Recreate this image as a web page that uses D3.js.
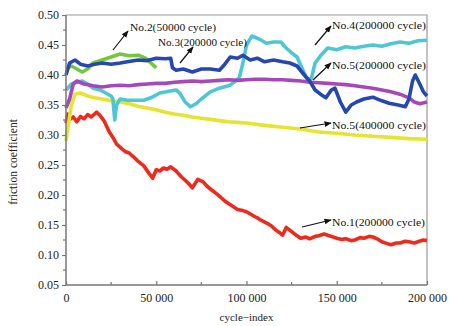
<!DOCTYPE html>
<html>
<head>
<meta charset="utf-8">
<script src="https://cdn.jsdelivr.net/npm/d3@7"></script>
<style>
  body { margin: 0; background: #fff; }
  svg text { font-family: "Liberation Serif", "DejaVu Serif", serif; }
</style>
</head>
<body>
<script>
const no1 = [[0,0.32],[1,0.335],[2,0.326],[4,0.33],[6,0.322],[8,0.331],[10,0.327],[12,0.334],[14,0.33],[17,0.338],[19,0.332],[21,0.324],[24,0.305],[26,0.296],[28,0.285],[31,0.277],[33,0.272],[35,0.27],[38,0.262],[40,0.256],[43,0.249],[46,0.236],[48,0.228],[50,0.242],[52,0.24],[54,0.245],[56,0.243],[58,0.247],[61,0.24],[64,0.23],[67,0.222],[70,0.212],[73,0.226],[76,0.222],[78,0.215],[80,0.21],[83,0.203],[85,0.198],[88,0.19],[90,0.186],[93,0.18],[95,0.176],[98,0.174],[100,0.172],[104,0.165],[106,0.162],[108,0.158],[112,0.152],[114,0.148],[116,0.142],[118,0.138],[120,0.133],[122,0.146],[125,0.139],[128,0.132],[130,0.128],[133,0.13],[135,0.127],[138,0.131],[140,0.132],[143,0.135],[145,0.133],[148,0.13],[150,0.128],[153,0.126],[155,0.127],[158,0.124],[160,0.125],[163,0.129],[165,0.128],[168,0.131],[170,0.13],[173,0.126],[175,0.122],[178,0.119],[180,0.117],[183,0.12],[185,0.12],[188,0.123],[190,0.122],[193,0.12],[195,0.122],[198,0.125],[200,0.124]];

const no5b = [[0,0.29],[1,0.31],[2,0.33],[3,0.35],[5,0.368],[8,0.37],[12,0.365],[16,0.362],[20,0.36],[25,0.357],[30,0.355],[35,0.352],[40,0.348],[45,0.345],[50,0.342],[55,0.338],[60,0.335],[65,0.333],[70,0.33],[75,0.328],[80,0.326],[85,0.324],[90,0.322],[95,0.321],[100,0.32],[110,0.316],[120,0.313],[130,0.31],[140,0.305],[150,0.303],[160,0.3],[170,0.298],[180,0.296],[190,0.294],[200,0.293]];

const no5a = [[0,0.345],[2,0.36],[4,0.385],[6,0.39],[10,0.385],[15,0.382],[20,0.38],[25,0.382],[30,0.383],[35,0.382],[40,0.384],[45,0.385],[50,0.386],[55,0.386],[60,0.388],[65,0.389],[70,0.39],[75,0.389],[80,0.39],[85,0.391],[90,0.392],[95,0.391],[100,0.392],[105,0.393],[110,0.393],[115,0.392],[120,0.392],[125,0.391],[130,0.39],[135,0.388],[140,0.387],[145,0.386],[150,0.385],[155,0.384],[160,0.382],[165,0.38],[170,0.378],[175,0.375],[180,0.372],[185,0.368],[190,0.362],[193,0.355],[196,0.352],[200,0.355]];

const no2 = [[0,0.41],[3,0.415],[6,0.41],[9,0.405],[12,0.41],[15,0.42],[20,0.425],[25,0.43],[30,0.435],[35,0.432],[40,0.433],[44,0.428],[47,0.42],[50,0.412]];

const no4 = [[0,0.375],[3,0.385],[6,0.388],[9,0.39],[12,0.385],[15,0.378],[19,0.375],[22,0.37],[25,0.365],[26,0.36],[27,0.325],[28,0.35],[30,0.36],[34,0.358],[38,0.358],[43,0.358],[47,0.362],[52,0.37],[57,0.373],[61,0.375],[63,0.37],[66,0.355],[69,0.347],[72,0.352],[75,0.36],[80,0.372],[85,0.378],[91,0.383],[96,0.395],[98,0.42],[100,0.45],[103,0.465],[107,0.46],[111,0.453],[115,0.455],[119,0.455],[122,0.445],[125,0.437],[128,0.43],[131,0.41],[134,0.39],[136,0.395],[138,0.42],[141,0.432],[145,0.445],[150,0.442],[155,0.447],[160,0.445],[165,0.448],[170,0.45],[175,0.448],[180,0.452],[185,0.455],[190,0.453],[195,0.457],[200,0.458]];

const no3 = [[0,0.40],[2,0.42],[5,0.425],[8,0.418],[12,0.415],[16,0.418],[20,0.42],[25,0.418],[30,0.42],[34,0.422],[40,0.425],[45,0.424],[50,0.428],[55,0.427],[58,0.428],[59,0.412],[61,0.408],[65,0.41],[70,0.405],[75,0.41],[80,0.41],[85,0.408],[88,0.418],[91,0.43],[95,0.428],[98,0.433],[102,0.425],[106,0.428],[110,0.422],[115,0.425],[120,0.422],[124,0.42],[128,0.415],[132,0.4],[135,0.39],[138,0.375],[141,0.368],[144,0.362],[147,0.375],[149,0.378],[152,0.355],[155,0.338],[158,0.35],[161,0.355],[165,0.36],[170,0.363],[175,0.357],[179,0.353],[184,0.35],[188,0.347],[190,0.36],[192,0.39],[193.5,0.4],[196,0.385],[198,0.372],[200,0.365]];

const yTicks = [0.05,0.10,0.15,0.20,0.25,0.30,0.35,0.40,0.45,0.50];
const xTicks = [0,50000,100000,150000,200000];
const xTickLabels = ["0","50 000","100 000","150 000","200 000"];

const W = 449, H = 326;
const m = {left: 66, right: 22, top: 15, bottom: 41};

const svg = d3.select('body').append('svg').attr('width', W).attr('height', H);

const x = d3.scaleLinear().domain([0, 200000]).range([m.left, W - m.right]);
const y = d3.scaleLinear().domain([0.05, 0.50]).range([H - m.bottom, m.top]);

// frame top + right
svg.append('path')
  .attr('d', `M${x(0)},${y(0.5)}H${x(200000)}V${y(0.05)}`)
  .attr('fill', 'none').attr('stroke', '#9a9a9a').attr('stroke-width', 1.2);

const line = d3.line().x(d => x(d[0] * 1000)).y(d => y(d[1]));

const series = [
  {data: no1, color: '#ee2a1c'},
  {data: no5b, color: '#e4e431'},
  {data: no2, color: '#74c63c'},
  {data: no4, color: '#4fc6d6'},
  {data: no5a, color: '#a549b8'},
  {data: no3, color: '#2747b0'}
];
series.forEach(s => {
  svg.append('path').datum(s.data)
    .attr('d', line)
    .attr('fill', 'none')
    .attr('stroke', s.color)
    .attr('stroke-width', 3.6)
    .attr('stroke-linejoin', 'round');
});

// y axis
const yAxis = svg.append('g').attr('transform', `translate(${x(0)},0)`)
  .call(d3.axisLeft(y).tickValues(yTicks).tickFormat(d3.format('.2f')).tickSize(4).tickPadding(3));
yAxis.append('g').selectAll('line').data(d3.range(0.075, 0.5, 0.05)).join('line')
  .attr('x1', -3).attr('x2', 0).attr('y1', d => y(d)).attr('y2', d => y(d));

// x axis
const xAxis = svg.append('g').attr('transform', `translate(0,${y(0.05)})`)
  .call(d3.axisBottom(x).tickValues(xTicks).tickFormat((d, i) => xTickLabels[i]).tickSize(-4).tickPadding(8));
xAxis.append('g').selectAll('line').data([25000,75000,125000,175000]).join('line')
  .attr('x1', d => x(d)).attr('x2', d => x(d)).attr('y1', 0).attr('y2', -3);

[yAxis, xAxis].forEach(g => {
  g.select('.domain').attr('stroke', '#777').attr('stroke-width', 1.5);
  g.selectAll('line').attr('stroke', '#777').attr('stroke-width', 1.2);
  g.selectAll('text').attr('fill', '#222').attr('font-size', 12)
    .style('font-family', '"Liberation Serif", serif');
});
xAxis.selectAll('.tick text').attr('dy', '0.71em');
yAxis.select('.domain').attr('d', `M0,${y(0.5)}V${y(0.05)}`);
xAxis.select('.domain').attr('d', `M${x(0)},0H${x(200000)}`);

// axis titles
svg.append('text').attr('x', (x(0) + x(200000)) / 2).attr('y', 321)
  .attr('text-anchor', 'middle').attr('font-size', 11).attr('fill', '#222').text('cycle−index');
svg.append('text').attr('transform', 'translate(17,162) rotate(-90)')
  .attr('text-anchor', 'middle').attr('font-size', 11.5).attr('fill', '#222').text('friction coefficient');

// annotations
const notes = [
  {text: 'No.2(50000 cycle)', tx: 130, ty: 27, len: 86, from: [113, 50], to: [128, 31]},
  {text: 'No.3(200000 cycle)', tx: 158, ty: 42, len: 89, from: [180, 63], to: [193, 47]},
  {text: 'No.4(200000 cycle)', tx: 332, ty: 25, len: 94, from: [315, 45], to: [331, 26]},
  {text: 'No.5(200000 cycle)', tx: 332, ty: 65, len: 94, from: [313, 80], to: [331, 63]},
  {text: 'No.5(400000 cycle)', tx: 332, ty: 125, len: 94, from: [300, 128], to: [331, 123]},
  {text: 'No.1(200000 cycle)', tx: 332, ty: 222, len: 93, from: [302, 227], to: [331, 220]}
];
svg.append('defs').append('marker').attr('id', 'ah')
  .attr('viewBox', '0 0 10 10').attr('refX', 9).attr('refY', 5)
  .attr('markerWidth', 6).attr('markerHeight', 6).attr('orient', 'auto')
  .append('path').attr('d', 'M0,1L10,5L0,9z').attr('fill', '#111');
notes.forEach(n => {
  svg.append('line').attr('x1', n.from[0]).attr('y1', n.from[1])
    .attr('x2', n.to[0]).attr('y2', n.to[1])
    .attr('stroke', '#111').attr('stroke-width', 1.2).attr('marker-end', 'url(#ah)');
  svg.append('text').attr('x', n.tx).attr('y', n.ty).attr('dy', '0.35em')
    .attr('font-size', 11).attr('fill', '#111')
    .attr('textLength', n.len).attr('lengthAdjust', 'spacingAndGlyphs').text(n.text);
});
</script>
</body>
</html>
